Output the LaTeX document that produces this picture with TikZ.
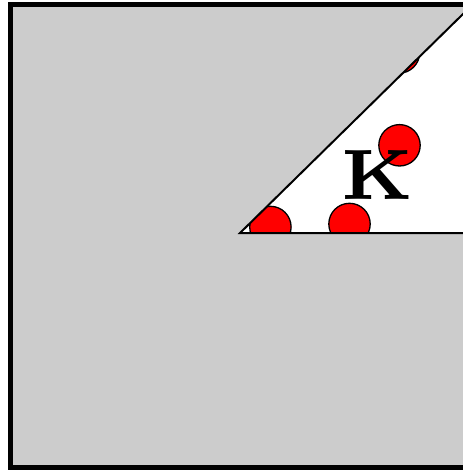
\documentclass[tikz,border=0pt]{standalone}
\usetikzlibrary{positioning}
\definecolor{panel}{RGB}{204,204,204}

\begin{document}
\begin{tikzpicture}[x=1pt, y=-1pt, ball/.style={fill=red, draw=black, line width=1.3pt}]
        \useasboundingbox (0,0) rectangle (462,470);
        \draw[line width=5pt, fill=panel] (10,4.5) rectangle (480,467.5);
        \coordinate (apex) at (240,233);
        \coordinate (low) at (480,233);
        \coordinate (high) at (480,-2.7);
        \fill[white] (apex) -- (low) -- (high) -- cycle;
        \begin{scope}
          \clip (apex) -- (low) -- (high) -- cycle;
          \foreach \cx/\cy in {270.4/227, 349.5/224, 399.5/145.3, 399/52.5}
            \draw[ball] (\cx,\cy) circle[radius=20.7];
        \end{scope}
        \draw[line width=2pt] (high) -- (apex) -- (low);
        \node[inner sep=0, scale=10.2, font=\fontsize{7}{8}\selectfont\bfseries] (k) at (377,175) {K};
      \end{tikzpicture}
\end{document}
